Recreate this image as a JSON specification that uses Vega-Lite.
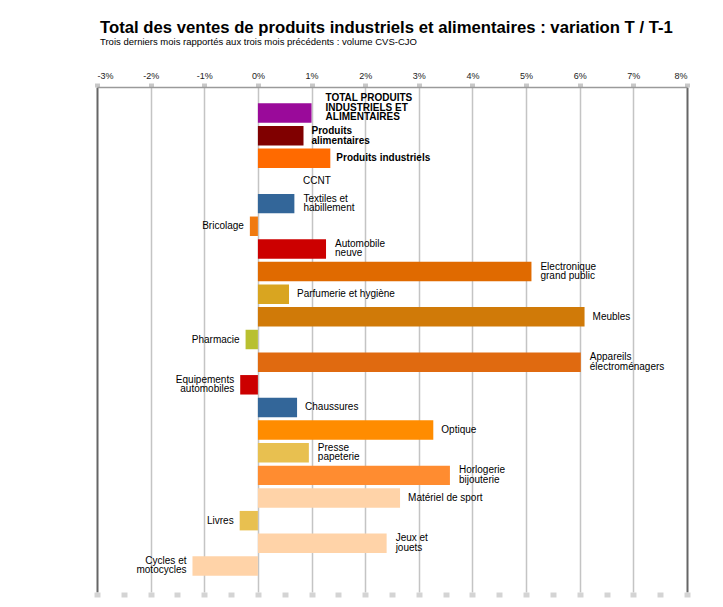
{
  "$schema": "https://vega.github.io/schema/vega-lite/v6.json",
  "autosize": {"type": "none"},
  "width": 590,
  "height": 505,
  "padding": {"left": 97, "top": 87, "right": 36, "bottom": 15},
  "background": "white",
  "config": {
    "font": "Liberation Sans",
    "view": {"stroke": null}
  },
  "title": {
    "text": "Total des ventes de produits industriels et alimentaires : variation T / T-1",
    "subtitle": "Trois derniers mois rapportés aux trois mois précédents : volume CVS-CJO",
    "anchor": "start",
    "frame": "group",
    "dx": 3,
    "font": "Liberation Sans",
    "fontSize": 16.7,
    "fontWeight": "bold",
    "color": "#000000",
    "subtitleFont": "Liberation Sans",
    "subtitleFontSize": 9.5,
    "subtitleColor": "#000000",
    "subtitlePadding": 0,
    "offset": 25
  },
  "data": {
    "values": [
      {"categorie": "TOTAL", "libelle": "TOTAL PRODUITS\nINDUSTRIELS ET\nALIMENTAIRES", "variation": 1.0},
      {"categorie": "Produits alimentaires", "libelle": "Produits\nalimentaires", "variation": 0.85},
      {"categorie": "Produits industriels", "libelle": "Produits industriels", "variation": 1.35},
      {"categorie": "CCNT", "libelle": "CCNT", "variation": null},
      {"categorie": "Textiles et habillement", "libelle": "Textiles et\nhabillement", "variation": 0.68},
      {"categorie": "Bricolage", "libelle": "Bricolage", "variation": -0.15},
      {"categorie": "Automobile neuve", "libelle": "Automobile\nneuve", "variation": 1.27},
      {"categorie": "Electronique grand public", "libelle": "Electronique\ngrand public", "variation": 5.1},
      {"categorie": "Parfumerie et hygiène", "libelle": "Parfumerie et hygiène", "variation": 0.58},
      {"categorie": "Meubles", "libelle": "Meubles", "variation": 6.09},
      {"categorie": "Pharmacie", "libelle": "Pharmacie", "variation": -0.23},
      {"categorie": "Appareils électroménagers", "libelle": "Appareils\nélectroménagers", "variation": 6.02},
      {"categorie": "Equipements automobiles", "libelle": "Equipements\nautomobiles", "variation": -0.33},
      {"categorie": "Chaussures", "libelle": "Chaussures", "variation": 0.73},
      {"categorie": "Optique", "libelle": "Optique", "variation": 3.27},
      {"categorie": "Presse papeterie", "libelle": "Presse\npapeterie", "variation": 0.95},
      {"categorie": "Horlogerie bijouterie", "libelle": "Horlogerie\nbijouterie", "variation": 3.58},
      {"categorie": "Matériel de sport", "libelle": "Matériel de sport", "variation": 2.65},
      {"categorie": "Livres", "libelle": "Livres", "variation": -0.34},
      {"categorie": "Jeux et jouets", "libelle": "Jeux et\njouets", "variation": 2.4},
      {"categorie": "Cycles et motocycles", "libelle": "Cycles et\nmotocycles", "variation": -1.22}
    ]
  },
  "encoding": {
    "y": {
      "field": "categorie",
      "type": "nominal",
      "axis": null,
      "scale": {
        "domain": ["TOTAL", "Produits alimentaires", "Produits industriels", "CCNT", "Textiles et habillement", "Bricolage", "Automobile neuve", "Electronique grand public", "Parfumerie et hygiène", "Meubles", "Pharmacie", "Appareils électroménagers", "Equipements automobiles", "Chaussures", "Optique", "Presse papeterie", "Horlogerie bijouterie", "Matériel de sport", "Livres", "Jeux et jouets", "Cycles et motocycles"],
        "paddingInner": 0.14,
        "paddingOuter": 0.72
      }
    }
  },
  "layer": [
    {
      "mark": {"type": "bar"},
      "encoding": {
        "x": {
          "field": "variation",
          "type": "quantitative",
          "scale": {"domain": [-3, 8], "nice": false, "zero": true},
          "axis": {
            "orient": "top",
            "values": [-3, -2, -1, 0, 1, 2, 3, 4, 5, 6, 7, 8],
            "labelExpr": "datum.value + '%'",
            "labelFontSize": 9,
            "labelColor": "#222222",
            "labelPadding": 3,
            "title": null,
            "domain": true,
            "domainColor": "#9A9A9A",
            "domainWidth": 1.5,
            "ticks": true,
            "tickSize": 4,
            "tickWidth": 5,
            "tickColor": "#C8C8C8",
            "grid": true,
            "gridColor": {"condition": {"test": "datum.value === -3 || datum.value === 8", "value": "#666666"}, "value": "#C4C4C4"},
            "gridWidth": {"condition": {"test": "datum.value === -3 || datum.value === 8", "value": 2}, "value": 1.5}
          }
        },
        "color": {
          "field": "categorie",
          "type": "nominal",
          "legend": null,
          "scale": {
            "domain": ["TOTAL", "Produits alimentaires", "Produits industriels", "CCNT", "Textiles et habillement", "Bricolage", "Automobile neuve", "Electronique grand public", "Parfumerie et hygiène", "Meubles", "Pharmacie", "Appareils électroménagers", "Equipements automobiles", "Chaussures", "Optique", "Presse papeterie", "Horlogerie bijouterie", "Matériel de sport", "Livres", "Jeux et jouets", "Cycles et motocycles"],
            "range": ["#9A0A9A", "#800000", "#FF6A00", "#FFFFFF", "#336699", "#F07A10", "#CC0000", "#E06A00", "#D9A520", "#D07A08", "#B8C030", "#E06A10", "#CC0000", "#336699", "#FF8C00", "#E8C050", "#FF8C30", "#FFD3A8", "#E8C050", "#FFD3A8", "#FFD3A8"]
          }
        }
      }
    },
    {
      "transform": [{"filter": {"field": "categorie", "equal": "TOTAL"}}],
      "mark": {"type": "text", "align": "left", "baseline": "middle", "dx": 14, "dy": -15, "fontSize": 10, "fontWeight": "bold", "lineBreak": "\n", "lineHeight": 9.5, "color": "#000000"},
      "encoding": {
        "x": {"field": "variation", "type": "quantitative", "axis": null},
        "text": {"field": "libelle"}
      }
    },
    {
      "transform": [{"filter": {"field": "categorie", "equal": "Produits alimentaires"}}],
      "mark": {"type": "text", "align": "left", "baseline": "middle", "dx": 8, "dy": -5, "fontSize": 10, "fontWeight": "bold", "lineBreak": "\n", "lineHeight": 10, "color": "#000000"},
      "encoding": {
        "x": {"field": "variation", "type": "quantitative", "axis": null},
        "text": {"field": "libelle"}
      }
    },
    {
      "transform": [{"filter": {"field": "categorie", "equal": "Produits industriels"}}],
      "mark": {"type": "text", "align": "left", "baseline": "middle", "dx": 6, "fontSize": 10, "fontWeight": "bold", "color": "#000000"},
      "encoding": {
        "x": {"field": "variation", "type": "quantitative", "axis": null},
        "text": {"field": "libelle"}
      }
    },
    {
      "transform": [
        {"filter": "datum.variation > 0 && indexof(datum.libelle, '\\n') < 0"},
        {"filter": {"not": {"field": "categorie", "oneOf": ["TOTAL", "Produits alimentaires", "Produits industriels"]}}}
      ],
      "mark": {"type": "text", "align": "left", "baseline": "middle", "dx": 8, "fontSize": 10, "color": "#000000"},
      "encoding": {
        "x": {"field": "variation", "type": "quantitative", "axis": null},
        "text": {"field": "libelle"}
      }
    },
    {
      "transform": [
        {"filter": "datum.variation > 0 && indexof(datum.libelle, '\\n') >= 0"},
        {"filter": {"not": {"field": "categorie", "oneOf": ["TOTAL", "Produits alimentaires", "Produits industriels"]}}}
      ],
      "mark": {"type": "text", "align": "left", "baseline": "middle", "dx": 9, "dy": -5, "fontSize": 10, "lineBreak": "\n", "lineHeight": 9.5, "color": "#000000"},
      "encoding": {
        "x": {"field": "variation", "type": "quantitative", "axis": null},
        "text": {"field": "libelle"}
      }
    },
    {
      "transform": [{"filter": "datum.variation < 0 && indexof(datum.libelle, '\\n') < 0"}],
      "mark": {"type": "text", "align": "right", "baseline": "middle", "dx": -6, "fontSize": 10, "color": "#000000"},
      "encoding": {
        "x": {"field": "variation", "type": "quantitative", "axis": null},
        "text": {"field": "libelle"}
      }
    },
    {
      "transform": [{"filter": "datum.variation < 0 && indexof(datum.libelle, '\\n') >= 0"}],
      "mark": {"type": "text", "align": "right", "baseline": "middle", "dx": -6, "dy": -5, "fontSize": 10, "lineBreak": "\n", "lineHeight": 9.5, "color": "#000000"},
      "encoding": {
        "x": {"field": "variation", "type": "quantitative", "axis": null},
        "text": {"field": "libelle"}
      }
    },
    {
      "transform": [{"filter": {"field": "categorie", "equal": "CCNT"}}],
      "mark": {"type": "text", "align": "center", "baseline": "middle", "dx": 59, "fontSize": 10, "color": "#000000"},
      "encoding": {
        "x": {
          "datum": 0,
          "type": "quantitative",
          "axis": {
            "orient": "bottom",
            "values": [-3, -2.5, -2, -1.5, -1, -0.5, 0, 0.5, 1, 1.5, 2, 2.5, 3, 3.5, 4, 4.5, 5, 5.5, 6, 6.5, 7, 7.5, 8],
            "labels": false,
            "title": null,
            "domain": false,
            "grid": false,
            "ticks": true,
            "tickSize": 5,
            "tickWidth": 6,
            "tickColor": "#D4D4D4"
          }
        },
        "text": {"field": "libelle"}
      }
    }
  ]
}
